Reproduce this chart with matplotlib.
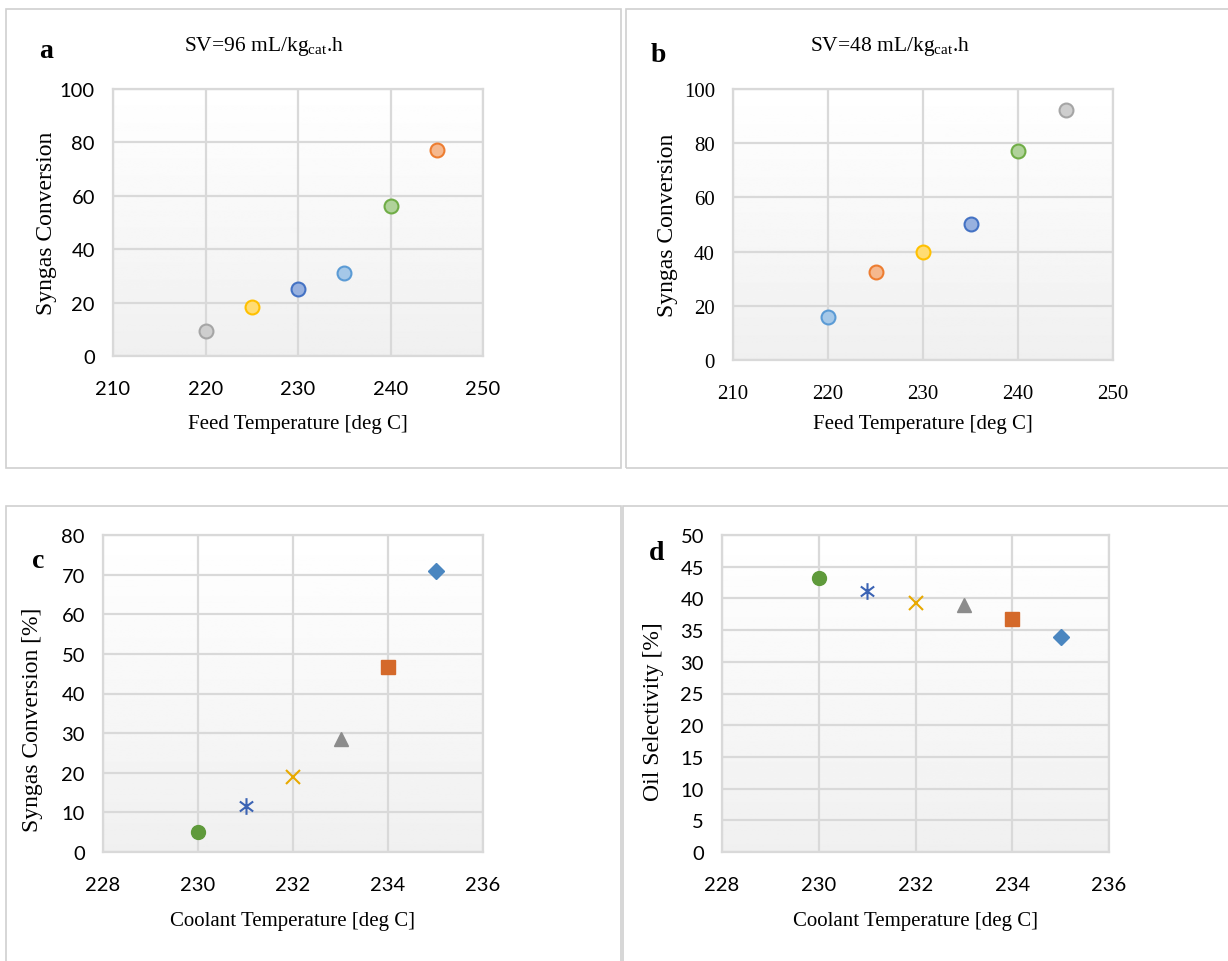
import numpy as np
import matplotlib
matplotlib.use('Agg')
from matplotlib import pyplot as plt
from matplotlib.path import Path
from matplotlib.patches import Rectangle

plt.rcParams['mathtext.fontset'] = 'custom'
plt.rcParams['mathtext.rm'] = 'Liberation Serif'
plt.rcParams['mathtext.it'] = 'Liberation Serif:italic'

# panel a: SV=96
feed_a = [220, 225, 230, 235, 240, 245]
conv_a = [9.5, 18.5, 25, 31, 56, 77]
colors_a = ['#a5a5a5', '#ffc000', '#4472c4', '#5b9bd5', '#70ad47', '#ed7d31']

# panel b: SV=48
feed_b = [220, 225, 230, 235, 240, 245]
conv_b = [15.7, 32.5, 39.9, 50.1, 77, 92.4]
colors_b = ['#5b9bd5', '#ed7d31', '#ffc000', '#4472c4', '#70ad47', '#a5a5a5']

# panels c and d: coolant temperature
coolant = [230, 231, 232, 233, 234, 235]
conv_c = [5, 11.5, 19, 28.6, 46.8, 71]
select_d = [43.2, 41.1, 39.2, 38.9, 36.8, 33.9]
colors_cd = ['#5f9a3b', '#3b63b4', '#e8a900', '#8c8c8c', '#d4692a', '#4a86c0']

star = Path([(0, -1), (0, 1), (-0.8, -0.6), (0.8, 0.6), (-0.8, 0.6), (0.8, -0.6)],
            [Path.MOVETO, Path.LINETO, Path.MOVETO, Path.LINETO, Path.MOVETO, Path.LINETO])
markers_cd = ['o', star, 'x', '^', 's', 'D']
sizes_cd = [10, 12, 10, 10, 10, 8]

SERIF = 'Liberation Serif'
SANS = 'Lato'
GRID = '#d9d9d9'

fig = plt.figure(figsize=(12.28, 9.62), dpi=100)

# panel frames
for x0, y0, x1, y1 in [(6, 10, 621, 469), (626, 10, 1240, 469),
                       (6, 507, 621, 975), (623, 507, 1240, 975)]:
    fig.patches.append(Rectangle((x0 / 1228, 1 - y1 / 962), (x1 - x0) / 1228, (y1 - y0) / 962,
                                 transform=fig.transFigure, fill=False,
                                 edgecolor='#d0d0d0', linewidth=1.2))


def setup(ax, xlim, xticks, ylim, yticks, xlabel, ylabel, tickfont, xlab_y, ylab_x):
    grad = np.linspace(1.0, 0.94, 256).reshape(-1, 1)
    ax.imshow(grad, extent=[0, 1, 0, 1], transform=ax.transAxes, aspect='auto',
              cmap='gray', vmin=0, vmax=1, zorder=0)
    ax.set_xlim(xlim)
    ax.set_ylim(ylim)
    ax.set_xticks(xticks)
    ax.set_yticks(yticks)
    ax.grid(True, color=GRID, linewidth=1.6, zorder=1)
    ax.set_axisbelow(True)
    for s in ax.spines.values():
        s.set_color(GRID)
        s.set_linewidth(1.6)
    size = 15 if tickfont == SERIF else 14.5
    ax.tick_params(length=0, labelsize=size, pad=13)
    ax.tick_params(axis='x', pad=17)
    for lab in ax.get_xticklabels() + ax.get_yticklabels():
        lab.set_family(tickfont)
    ax.set_xlabel(xlabel, family=SERIF, fontsize=15)
    ax.set_ylabel(ylabel, family=SERIF, fontsize=17)
    ax.xaxis.label.set_va('center')
    ax.yaxis.label.set_va('center')
    ax.xaxis.set_label_coords(0.5, xlab_y)
    ax.yaxis.set_label_coords(ylab_x[0], ylab_x[1])


def circles(ax, xs, ys, cols):
    for x, y, c in zip(xs, ys, cols):
        rgb = np.array(matplotlib.colors.to_rgb(c))
        face = 1 - 0.55 * (1 - rgb)
        ax.plot(x, y, 'o', ms=10, mfc=face, mec=c, mew=1.5, zorder=3)


ax_a = fig.add_axes([113 / 1228, 1 - 357 / 962, 370 / 1228, 267 / 962])
setup(ax_a, (210, 250), [210, 220, 230, 240, 250], (0, 100), range(0, 101, 20),
      'Feed Temperature [deg C]', 'Syngas Conversion', SANS,
      -68 / 267, ((47 - 113) / 370, 0.5))
circles(ax_a, feed_a, conv_a, colors_a)

ax_b = fig.add_axes([733 / 1228, 1 - 361 / 962, 380 / 1228, 271 / 962])
setup(ax_b, (210, 250), [210, 220, 230, 240, 250], (0, 100), range(0, 101, 20),
      'Feed Temperature [deg C]', 'Syngas Conversion', SERIF,
      -64 / 271, ((667 - 733) / 380, 0.5))
circles(ax_b, feed_b, conv_b, colors_b)

ax_c = fig.add_axes([103 / 1228, 1 - 853 / 962, 380 / 1228, 317 / 962])
setup(ax_c, (228, 236), range(228, 237, 2), (0, 80), range(0, 81, 10),
      'Coolant Temperature [deg C]', 'Syngas Conversion [%]', SANS,
      -69 / 317, ((33 - 103) / 380, (853 - 720) / 317))

ax_d = fig.add_axes([722 / 1228, 1 - 853 / 962, 387 / 1228, 317 / 962])
setup(ax_d, (228, 236), range(228, 237, 2), (0, 50), range(0, 51, 5),
      'Coolant Temperature [deg C]', 'Oil Selectivity [%]', SANS,
      -69 / 317, ((653 - 722) / 387, (853 - 712) / 317))

for ax, ys in [(ax_c, conv_c), (ax_d, select_d)]:
    for x, y, c, m, s in zip(coolant, ys, colors_cd, markers_cd, sizes_cd):
        if m in ('x',) or isinstance(m, Path):
            ax.plot(x, y, marker=m, ms=s, color=c, mew=1.5, linestyle='none', zorder=3)
        else:
            ax.plot(x, y, marker=m, ms=s, color=c, mec=c, linestyle='none', zorder=3)

fig.text(264 / 1228, 1 - 46 / 962, 'SV=96 mL/kg$_{\\mathrm{cat}}$.h', family=SERIF,
         fontsize=15.5, ha='center', va='center')
fig.text(890 / 1228, 1 - 46 / 962, 'SV=48 mL/kg$_{\\mathrm{cat}}$.h', family=SERIF,
         fontsize=15.5, ha='center', va='center')

for lx, ly, t in [(46, 52, 'a'), (658, 55, 'b'), (38, 562, 'c'), (657, 554, 'd')]:
    fig.text(lx / 1228, 1 - ly / 962, t, family=SERIF, fontsize=20, fontweight='bold',
             ha='center', va='center')

fig.savefig('out.png', dpi=100)
